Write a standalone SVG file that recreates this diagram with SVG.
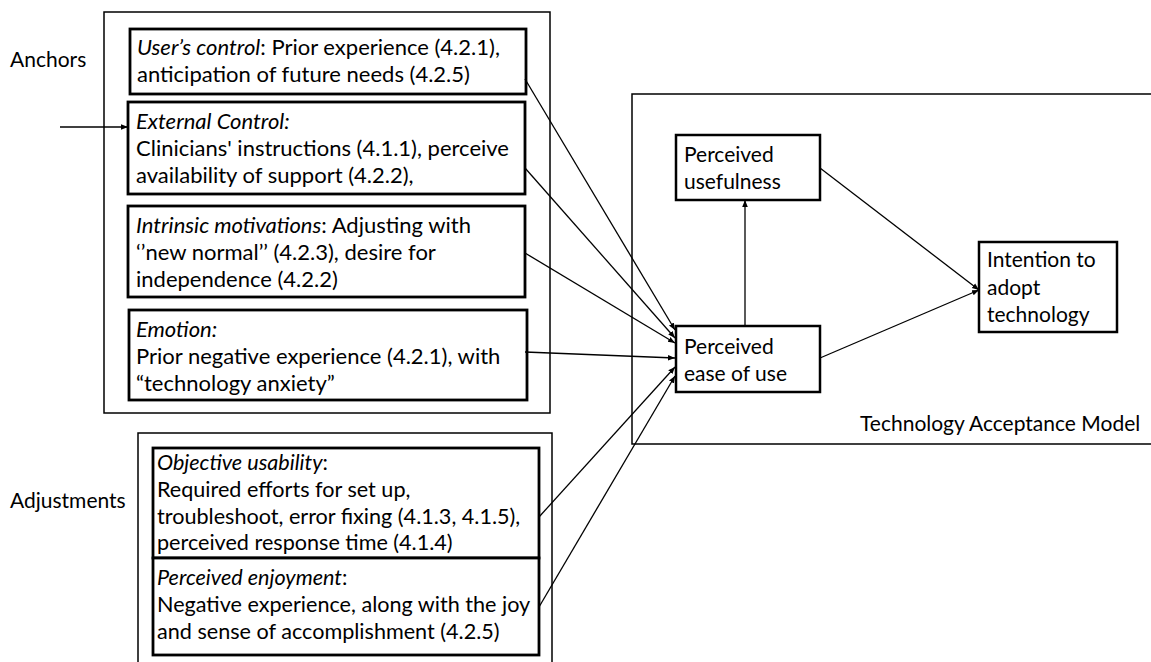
<svg xmlns="http://www.w3.org/2000/svg" width="1151" height="662" viewBox="0 0 1151 662">
<style>
text{font-family:Lato,"Open Sans","Liberation Sans",sans-serif;font-size:21px;fill:#000}
.l{font-size:22px}
.a{font-size:21.6px}
.it{font-style:italic}
.outer{fill:none;stroke:#000;stroke-width:1.5}
.box{fill:#fff;stroke:#000;stroke-width:2.8}
.tbox{fill:#fff;stroke:#000;stroke-width:2.5}
.c{fill:none;stroke:#000;stroke-width:1.3;marker-end:url(#ah)}
</style>
<defs>
<marker id="ah" viewBox="0 0 10 10" refX="10" refY="5" markerWidth="7" markerHeight="7" orient="auto" markerUnits="userSpaceOnUse">
<path d="M0,1 L10,5 L0,9 z" fill="#000"/>
</marker>
</defs>
<rect width="1151" height="662" fill="#fff"/>
<g id="anchors-group">
<rect class="outer" x="104" y="12" width="446" height="401"/>
<text x="10" y="67">Anchors</text>
</g>
<g id="adjustments-group">
<path class="outer" d="M138,662 V433 H552 V662"/>
<text x="10" y="508">Adjustments</text>
</g>
<g id="tam-group">
<path class="outer" d="M1151,94 H632 V444 H1151"/>
<text x="860" y="431">Technology Acceptance Model</text>
</g>
<g id="users-control">
<rect class="box" x="130" y="29" width="396" height="65"/>
<text class="l" x="137" y="55"><tspan class="it">User’s control</tspan>: Prior experience (4.2.1),</text>
<text class="l" x="137" y="82">anticipation of future needs (4.2.5)</text>
</g>
<g id="external-control">
<rect class="box" x="128" y="102" width="397" height="92"/>
<text x="136" y="129" class="l it">External Control:</text>
<text class="l" x="136" y="156">Clinicians' instructions (4.1.1), perceive</text>
<text class="l" x="136" y="183">availability of support (4.2.2),</text>
</g>
<g id="intrinsic-motivations">
<rect class="box" x="128" y="206" width="397" height="91"/>
<text class="l" x="136" y="233"><tspan class="it">Intrinsic motivations</tspan>: Adjusting with</text>
<text class="l" x="136" y="260">‘’new normal’’ (4.2.3), desire for</text>
<text class="l" x="136" y="287">independence (4.2.2)</text>
</g>
<g id="emotion">
<rect class="box" x="129" y="310" width="398" height="90"/>
<text x="136" y="337" class="l it">Emotion:</text>
<text class="l" x="136" y="364">Prior negative experience (4.2.1), with</text>
<text class="l" x="136" y="391">“technology anxiety”</text>
</g>
<g id="objective-usability">
<rect class="box" x="153" y="448" width="386" height="110"/>
<text class="a" x="157" y="470"><tspan class="it">Objective usability</tspan>:</text>
<text class="a" x="157" y="497">Required efforts for set up,</text>
<text class="a" x="157" y="524">troubleshoot, error fixing (4.1.3, 4.1.5),</text>
<text class="a" x="157" y="550">perceived response time (4.1.4)</text>
</g>
<g id="perceived-enjoyment">
<rect class="box" x="153" y="558" width="386" height="97"/>
<text class="a" x="157" y="585"><tspan class="it">Perceived enjoyment</tspan>:</text>
<text class="a" x="157" y="612">Negative experience, along with the joy</text>
<text class="a" x="157" y="639">and sense of accomplishment (4.2.5)</text>
</g>
<g id="perceived-usefulness">
<rect class="tbox" x="676" y="135" width="144" height="65"/>
<text x="684" y="162">Perceived</text>
<text x="684" y="189">usefulness</text>
</g>
<g id="perceived-ease">
<rect class="tbox" x="676" y="326" width="144" height="66"/>
<text x="684" y="354">Perceived</text>
<text x="684" y="381">ease of use</text>
</g>
<g id="intention">
<rect class="tbox" x="979" y="242" width="138" height="90"/>
<text x="987" y="267">Intention to</text>
<text x="987" y="295">adopt</text>
<text x="987" y="322">technology</text>
</g>
<g id="connectors">
<path class="c" d="M60,127 H128"/>
<path class="c" d="M525,79 L675,330"/>
<path class="c" d="M525,168 L675,338"/>
<path class="c" d="M525,253 L675,343"/>
<path class="c" d="M525,352 L675,358"/>
<path class="c" d="M539,517 L675,367"/>
<path class="c" d="M539,607 L675,376"/>
<path class="c" d="M745,326 V200"/>
<path class="c" d="M820,168 L979,290"/>
<path class="c" d="M820,358 L979,290"/>
</g>
</svg>
